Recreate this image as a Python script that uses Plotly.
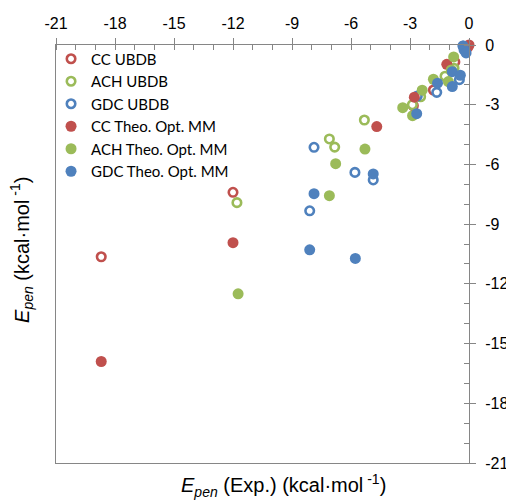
import plotly.graph_objects as go

# ---- data (kcal/mol) ----
cc_ubdb_x = [-18.7, -12.0, -2.83, -1.81, -0.72, 0.0]
cc_ubdb_y = [-10.64, -7.40, -3.05, -2.26, -0.85, 0.0]

ach_ubdb_x = [-11.8, -7.10, -6.83, -5.32, -2.88, -2.46, -1.22, -0.76]
ach_ubdb_y = [-7.92, -4.72, -5.13, -3.77, -3.00, -2.60, -1.57, -1.17]

gdc_ubdb_x = [-7.88, -8.10, -5.80, -4.87, -2.63, -1.64, -0.49, -0.30]
gdc_ubdb_y = [-5.14, -8.33, -6.40, -6.78, -2.56, -2.38, -1.74, -0.05]

cc_mm_x = [-18.7, -12.0, -4.69, -2.78, -1.13, -0.05]
cc_mm_y = [-15.9, -9.93, -4.10, -2.62, -0.97, -0.10]

ach_mm_x = [-11.74, -7.10, -6.78, -5.29, -3.37, -2.87, -2.38, -1.81, -1.05, -0.78, -0.90]
ach_mm_y = [-12.5, -7.57, -5.96, -5.23, -3.15, -3.55, -2.27, -1.72, -1.84, -0.60, -1.25]

gdc_mm_x = [-7.88, -8.10, -5.78, -4.87, -2.66, -1.60, -0.85, -0.85, -0.44, -0.25, -0.30, -0.15]
gdc_mm_y = [-7.47, -10.29, -10.72, -6.48, -3.45, -1.92, -2.09, -1.34, -1.52, -0.25, -0.05, -0.40]

tick_vals = [-21, -18, -15, -12, -9, -6, -3, 0]

RED = "#C0504D"
GREEN = "#9BBB59"
BLUE = "#4F81BD"
AXC = "#868686"

fig = go.Figure()

def open_trace(x, y, color, name):
    return go.Scatter(x=x, y=y, mode="markers", name=name, cliponaxis=False,
                      marker=dict(symbol="circle", size=8.5, color="white",
                                  line=dict(color=color, width=2.6)))

def filled_trace(x, y, color, name):
    return go.Scatter(x=x, y=y, mode="markers", name=name, cliponaxis=False,
                      marker=dict(symbol="circle", size=11, color=color,
                                  line=dict(width=0)))

fig.add_trace(open_trace(cc_ubdb_x, cc_ubdb_y, RED, "CC UBDB"))
fig.add_trace(open_trace(ach_ubdb_x, ach_ubdb_y, GREEN, "ACH UBDB"))
fig.add_trace(open_trace(gdc_ubdb_x, gdc_ubdb_y, BLUE, "GDC UBDB"))
fig.add_trace(filled_trace(cc_mm_x, cc_mm_y, RED, "CC Theo. Opt. MM"))
fig.add_trace(filled_trace(ach_mm_x, ach_mm_y, GREEN, "ACH Theo. Opt. MM"))
fig.add_trace(filled_trace(gdc_mm_x, gdc_mm_y, BLUE, "GDC Theo. Opt. MM"))
# empty trace to activate overlay axes (inner halves of major ticks)
fig.add_trace(go.Scatter(x=[], y=[], xaxis="x2", yaxis="y2", showlegend=False,
                         hoverinfo="skip"))

tickfont = dict(family="Liberation Sans, Arial, sans-serif", size=16, color="black")
titlefont = dict(family="Liberation Sans, Arial, sans-serif", size=20, color="black")

# page body has an 8px margin: figure is 506x492 placed at (8, 8)
fig.update_layout(
    width=506, height=492,
    margin=dict(l=48, r=45, t=37, b=37, autoexpand=False),
    paper_bgcolor="white", plot_bgcolor="white",
    showlegend=True,
    legend=dict(x=-0.012, y=1.006, xanchor="left", yanchor="top",
                bgcolor="rgba(0,0,0,0)", borderwidth=0,
                font=dict(family="Lato, sans-serif", size=15, color="black"),
                itemwidth=30, tracegroupgap=0),
    xaxis=dict(range=[-21, 0], side="top", tickvals=tick_vals,
               ticktext=[str(v) for v in tick_vals],
               ticks="outside", ticklen=6, tickcolor=AXC, tickwidth=1,
               minor=dict(dtick=1, tick0=0, ticks="inside", ticklen=5,
                          tickcolor=AXC, tickwidth=1),
               showline=True, linecolor=AXC, linewidth=1, mirror=True,
               showgrid=False, zeroline=False, tickfont=tickfont,
               ticklabelstandoff=3, automargin=False),
    yaxis=dict(range=[-21, 0], side="right", tickvals=tick_vals,
               ticktext=[str(v) for v in tick_vals],
               ticks="outside", ticklen=6, tickcolor=AXC, tickwidth=1,
               minor=dict(dtick=1, tick0=0, ticks="inside", ticklen=5,
                          tickcolor=AXC, tickwidth=1),
               showline=True, linecolor=AXC, linewidth=1, mirror=True,
               showgrid=False, zeroline=False, tickfont=tickfont,
               ticklabelstandoff=6, automargin=False),
    xaxis2=dict(range=[-21, 0], overlaying="x", side="top", anchor="y",
                tickvals=tick_vals, ticks="inside", ticklen=5, tickcolor=AXC,
                showticklabels=False, showline=False, showgrid=False,
                zeroline=False, automargin=False),
    yaxis2=dict(range=[-21, 0], overlaying="y", side="right", anchor="x",
                tickvals=tick_vals, ticks="inside", ticklen=5, tickcolor=AXC,
                showticklabels=False, showline=False, showgrid=False,
                zeroline=False, automargin=False),
    annotations=[
        dict(text="<i>E</i><sub><i>pen</i></sub> (Exp.) (kcal·mol<sup> -1</sup>)",
             xref="paper", yref="paper", x=0.55, y=-0.055,
             xanchor="center", yanchor="middle", showarrow=False,
             font=titlefont),
        dict(text="<i>E</i><sub><i>pen</i></sub> (kcal·mol<sup> -1</sup>)",
             xref="paper", yref="paper", x=-0.082, y=0.51, textangle=-90,
             xanchor="center", yanchor="middle", showarrow=False,
             font=titlefont),
    ],
)

fig.write_html("out.html")
